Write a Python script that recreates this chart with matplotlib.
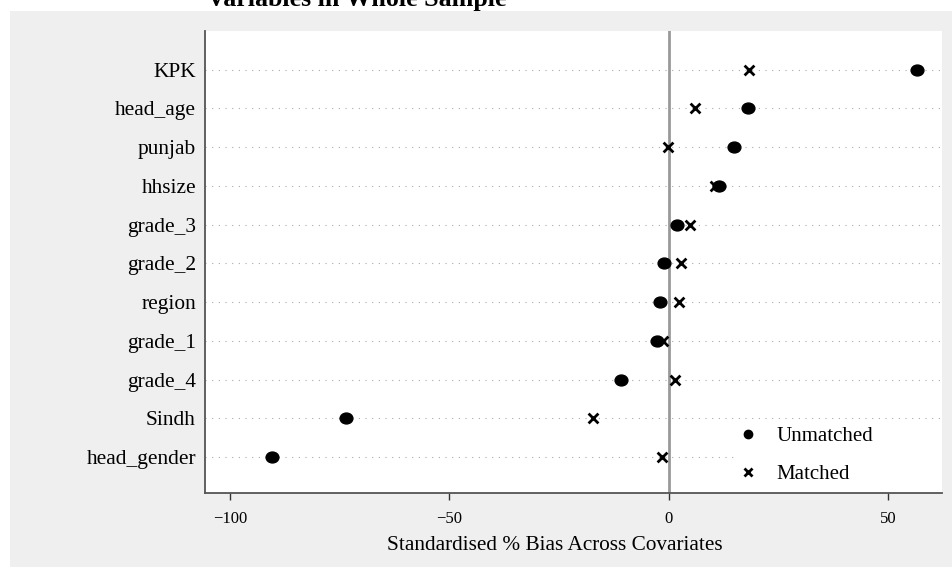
import matplotlib
matplotlib.use("Agg")
import matplotlib.pyplot as plt
from matplotlib.patches import Rectangle
from matplotlib.lines import Line2D
from matplotlib.path import Path
from matplotlib.transforms import Affine2D

variables = ["KPK", "head_age", "punjab", "hhsize", "grade_3", "grade_2",
             "region", "grade_1", "grade_4", "Sindh", "head_gender"]
unmatched = [56.5, 18.0, 14.8, 11.4, 1.8, -1.1, -2.0, -2.7, -10.9, -73.6, -90.4]
matched = [18.2, 5.9, -0.2, 10.5, 4.8, 2.7, 2.3, -1.3, 1.4, -17.2, -1.7]
xticks = [-100, -50, 0, 50]
xticklabels = ['\u2212100', '\u221250', '0', '50']

plt.rcParams['font.family'] = ['Liberation Serif', 'DejaVu Serif']

W, H = 953, 567
fig = plt.figure(figsize=(W / 100, H / 100), dpi=100)
fig.patch.set_facecolor('white')

# gray panel
fig.patches.append(Rectangle((10 / W, 0), 1 - 10 / W, 1 - 11 / H,
                             transform=fig.transFigure, facecolor='#efefef',
                             edgecolor='none', zorder=-10))

fig.text(207 / W, 1 - 6 / H, "Variables in Whole Sample", fontsize=18.7,
         fontweight='bold', ha='left', va='baseline')

ax = fig.add_axes([205 / W, 1 - 493 / H, (942 - 205) / W, (493 - 31) / H])
ax.set_facecolor('white')

n = len(variables)
ypos = [n - i for i in range(n)]

for y in ypos:
    ax.axhline(y, color='#ababab', lw=0.8, ls=(0, (1, 5)), zorder=1)
ax.axvline(0, color='#999999', lw=2, zorder=2)

ellipse = Path.unit_circle().transformed(Affine2D().scale(1.0, 0.85))

ax.scatter(unmatched, ypos, s=85, marker=ellipse, color='black', zorder=4,
           label='Unmatched')
ax.scatter(matched, ypos, s=50, marker='x', color='black', linewidths=2,
           zorder=5, label='Matched')

ax.set_xlim(-105.7, 62.2)
ax.set_ylim(0.07, 12.0)
ax.set_yticks(ypos)
ax.set_yticklabels(variables, fontsize=15.4)
ax.tick_params(axis='y', length=0, pad=6.5)
ax.set_xticks(xticks)
ax.set_xticklabels(xticklabels, fontsize=12)
ax.tick_params(axis='x', length=5, width=1, color='#333333', pad=8)
ax.set_xlabel('Standardised % Bias Across Covariates', fontsize=15.3)
ax.xaxis.set_label_coords((555 - 205) / 737, -(545 - 493) / 462)
ax.xaxis.label.set_va('center')

for s in ['top', 'right']:
    ax.spines[s].set_visible(False)
for s in ['left', 'bottom']:
    ax.spines[s].set_color('#555555')
    ax.spines[s].set_linewidth(1.3)

# white legend backing box
ax.add_patch(Rectangle(((737 - 205) / 737, 0), 1 - (737 - 205) / 737,
                       (493 - 425) / 462, transform=ax.transAxes,
                       facecolor='white', edgecolor='none', zorder=2.2))

handles = [Line2D([], [], marker='o', ls='none', color='black', markersize=6),
           Line2D([], [], marker='x', ls='none', color='black', markersize=5.5,
                  mew=2)]
leg = ax.legend(handles, ['Unmatched', 'Matched'], loc='lower left',
                bbox_to_anchor=((737.6 - 205) / 737, 9 / 462), frameon=False,
                fontsize=15, handletextpad=0.85, labelspacing=0.87,
                borderpad=0, borderaxespad=0, handlelength=1.0)
leg.set_zorder(6)

fig.savefig('out.png', dpi=100)
